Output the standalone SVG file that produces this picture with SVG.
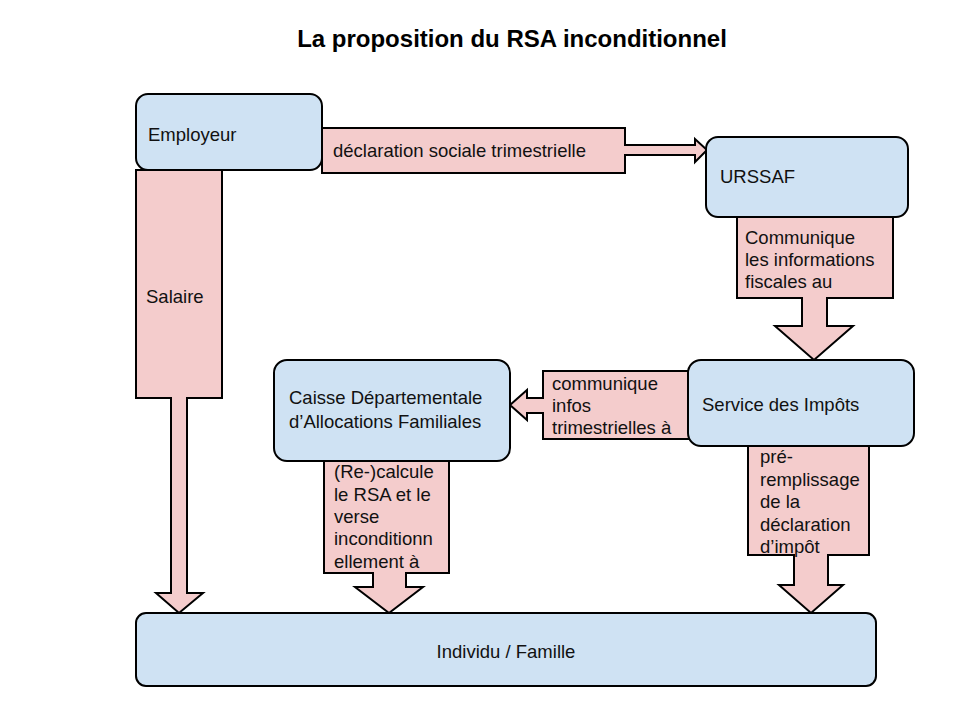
<svg xmlns="http://www.w3.org/2000/svg" width="960" height="720" viewBox="0 0 960 720">
<style>
text{font-family:"Liberation Sans",Arial,sans-serif;font-size:18.5px;fill:#111}
.title{font-size:24px;font-weight:bold;fill:#000}
.node{fill:#cfe2f3;stroke:#000;stroke-width:2}
.arrow{fill:#f4cccc;stroke:#000;stroke-width:2;stroke-linejoin:miter}
</style>
<rect width="960" height="720" fill="#fff"/>
<text class="title" x="512" y="47" text-anchor="middle">La proposition du RSA inconditionnel</text>
<g id="connectors">
<g id="c-declaration">
<path class="arrow" d="M322,128 H625 V145 H695 V139 L707,150 L695,162 V155 H625 V173 H322 Z"/>
<text x="333" y="157">déclaration sociale trimestrielle</text>
</g>
<g id="c-salaire">
<path class="arrow" d="M136,170 H222 V398 H187 V593 H203 L179,613 L156,593 H171 V398 H136 Z"/>
<text x="146" y="303">Salaire</text>
</g>
<g id="c-communique">
<path class="arrow" d="M737,217 H893 V298 H827 V326 H853 L814,360 L775,326 H802 V298 H737 Z"/>
<text x="745" y="244">Communique</text>
<text x="745" y="266">les informations</text>
<text x="745" y="288">fiscales au</text>
</g>
<g id="c-infos">
<path class="arrow" d="M700,371 H543 V398 H527 V390 L510,405 L527,420 V413 H543 V439 H700 Z"/>
<text x="552" y="390">communique</text>
<text x="552" y="412">infos</text>
<text x="552" y="434">trimestrielles à</text>
</g>
<g id="c-rsa">
<path class="arrow" d="M324,461 H449 V573 H406 V587 H423 L389,613 L355,587 H373 V573 H324 Z"/>
<text x="334" y="478">(Re-)calcule</text>
<text x="334" y="501">le RSA et le</text>
<text x="334" y="523">verse</text>
<text x="334" y="545">inconditionn</text>
<text x="334" y="568">ellement à</text>
</g>
<g id="c-impot">
<path class="arrow" d="M748,446 H869 V555 H828 V585 H843 L811,613 L779,585 H794 V555 H748 Z"/>
<text x="760" y="463">pré-</text>
<text x="760" y="486">remplissage</text>
<text x="760" y="508">de la</text>
<text x="760" y="531">déclaration</text>
<text x="760" y="553">d’impôt</text>
</g>
</g>
<g id="employeur">
<rect class="node" x="136" y="94" width="186" height="76" rx="12"/>
<text x="148" y="141">Employeur</text>
</g>
<g id="urssaf">
<rect class="node" x="706" y="137" width="202" height="80" rx="12"/>
<text x="720" y="183">URSSAF</text>
</g>
<g id="impots">
<rect class="node" x="688" y="360" width="226" height="86" rx="13"/>
<text x="702" y="411">Service des Impôts</text>
</g>
<g id="caf">
<rect class="node" x="274" y="360" width="236" height="101" rx="13"/>
<text x="289" y="404">Caisse Départementale</text>
<text x="289" y="428">d’Allocations Familiales</text>
</g>
<g id="individu">
<rect class="node" x="136" y="613" width="740" height="73" rx="10"/>
<text x="506" y="658" text-anchor="middle">Individu / Famille</text>
</g>
</svg>
